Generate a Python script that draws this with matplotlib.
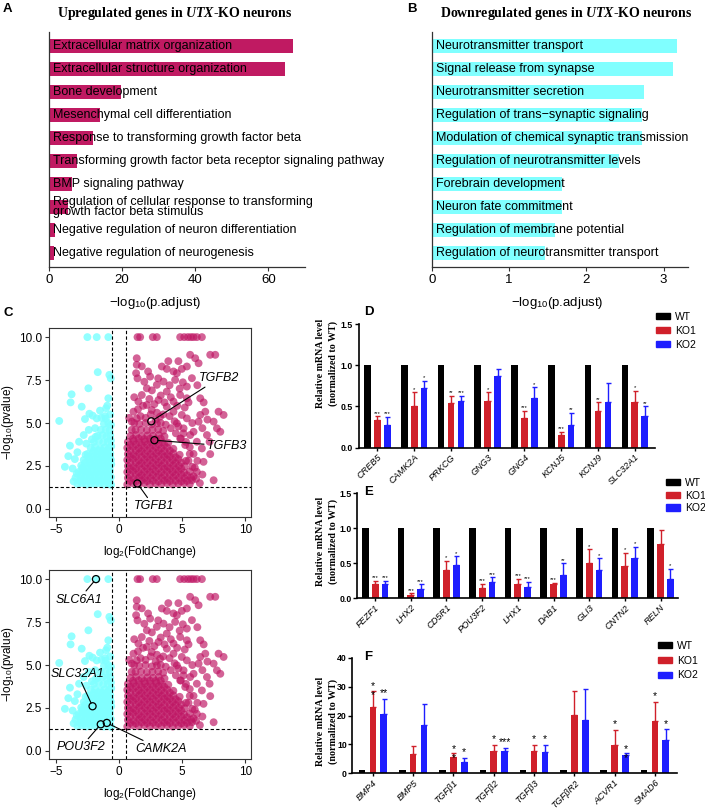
import numpy as np
import matplotlib.pyplot as plt
from matplotlib.patches import Patch

plt.rcParams['font.family'] = ['Liberation Sans', 'DejaVu Sans']
plt.rcParams['mathtext.fontset'] = 'custom'
plt.rcParams['mathtext.rm'] = 'Liberation Sans'
plt.rcParams['mathtext.it'] = 'Liberation Serif:italic:bold'
plt.rcParams['mathtext.bf'] = 'Liberation Serif:bold'

# --- A / B: GO enrichment ---
up_terms = [
    "Extracellular matrix organization",
    "Extracellular structure organization",
    "Bone development",
    "Mesenchymal cell differentiation",
    "Response to transforming growth factor beta",
    "Transforming growth factor beta receptor signaling pathway",
    "BMP signaling pathway",
    "Regulation of cellular response to transforming\ngrowth factor beta stimulus",
    "Negative regulation of neuron differentiation",
    "Negative regulation of neurogenesis",
]
up_values = [66.7, 64.5, 19.7, 14.0, 12.1, 7.8, 6.5, 5.2, 1.8, 1.5]

down_terms = [
    "Neurotransmitter transport",
    "Signal release from synapse",
    "Neurotransmitter secretion",
    "Regulation of trans\u2212synaptic signaling",
    "Modulation of chemical synaptic transmission",
    "Regulation of neurotransmitter levels",
    "Forebrain development",
    "Neuron fate commitment",
    "Regulation of membrane potential",
    "Regulation of neurotransmitter transport",
]
down_values = [3.17, 3.12, 2.75, 2.72, 2.72, 2.42, 1.69, 1.68, 1.59, 1.46]

# --- C: volcano (odhad bodu z obrazku) ---
down_fc = [-3.3, -2.95, -2.6, -2.25, -1.9, -1.55, -1.2, -0.85, -0.63,
           -3.45, -3.05, -2.7, -2.3, -1.95, -1.6, -1.25, -0.9, -0.65,
           -3.2, -2.8, -2.45, -2.1, -1.75, -1.4, -1.05, -0.72,
           -3.0, -2.55, -2.2, -1.85, -1.5, -1.15, -0.8, -0.62,
           -2.8, -2.35, -2.0, -1.6, -1.25, -0.9, -0.65,
           -2.5, -2.1, -1.75, -1.4, -1.05, -0.7,
           -2.25, -1.9, -1.5, -1.15, -0.8, -0.62,
           -2.0, -1.6, -1.25, -0.9, -0.65,
           -1.7, -1.3, -1.0, -0.7,
           -1.45, -1.05, -0.75,
           -1.2, -0.85, -0.65,
           -2.51, -1.77, -0.85, -1.69, -0.77, -0.66, -2.43, -3.76, -3.84, -0.85,
           -2.96, -4.74, -2.35, -2.09, -1.51, -1.03, -0.93, -2.7, -1.77, -3.17,
           -3.89, -4.02, -4.29, -3.68, -3.6, -3.5, -2.8, -2.4, -1.9, -3.3,
           -2.6, -1.4, -0.7, -1.1, -2.65, -2.9, -3.35, -1.85, -2.15, -1.05]
down_p = [1.45, 1.5, 1.42, 1.48, 1.44, 1.5, 1.42, 1.47, 1.4,
          1.82, 1.78, 1.85, 1.8, 1.76, 1.84, 1.8, 1.78, 1.85,
          2.15, 2.2, 2.12, 2.18, 2.14, 2.2, 2.13, 2.18,
          2.52, 2.48, 2.55, 2.5, 2.46, 2.52, 2.5, 2.6,
          2.85, 2.9, 2.84, 2.88, 2.82, 2.9, 2.86,
          3.2, 3.25, 3.18, 3.22, 3.2, 3.25,
          3.55, 3.6, 3.52, 3.58, 3.55, 3.65,
          3.9, 3.95, 3.88, 3.92, 3.98,
          4.25, 4.3, 4.22, 4.28,
          4.6, 4.62, 4.58,
          4.95, 5.0, 4.9,
          10.0, 10.0, 10.0, 7.96, 7.8, 7.6, 7.02, 6.67, 6.2, 6.44,
          5.95, 5.12, 5.54, 5.43, 5.72, 5.86, 6.01, 5.23, 5.27, 3.91,
          3.68, 3.07, 2.45, 2.35, 1.6, 2.9, 4.3, 4.6, 4.7, 3.3,
          3.8, 5.3, 5.5, 5.4, 3.15, 2.4, 2.05, 4.2, 4.05, 5.25]
# husta cast vlevo
down_core_fc = [-3.1, -2.75, -2.4, -2.05, -1.7, -1.35, -1.0, -0.75,
                -3.0, -2.62, -2.28, -1.92, -1.58, -1.22, -0.88,
                -2.9, -2.5, -2.15, -1.8, -1.45, -1.1, -0.75,
                -2.7, -2.3, -1.95, -1.6, -1.25, -0.9,
                -2.45, -2.05, -1.7, -1.35, -1.0, -0.72,
                -2.0, -1.62, -1.28, -0.95]
down_core_p = [1.63, 1.6, 1.66, 1.62, 1.64, 1.6, 1.65, 1.62,
               1.98, 2.0, 1.96, 1.99, 1.97, 2.0, 1.96,
               2.33, 2.35, 2.31, 2.34, 2.32, 2.36, 2.33,
               2.68, 2.7, 2.66, 2.69, 2.67, 2.7,
               3.03, 3.05, 3.01, 3.04, 3.02, 3.06,
               3.38, 3.4, 3.36, 3.39]

up_fc = [0.65, 1.1, 1.55, 2.0, 2.45, 2.9, 3.35, 3.8, 4.25, 4.7, 5.15, 5.6,
         0.7, 1.15, 1.6, 2.05, 2.5, 2.95, 3.4, 3.85, 4.3, 4.75, 5.2, 5.7, 6.1,
         0.65, 1.1, 1.55, 2.0, 2.45, 2.9, 3.35, 3.8, 4.25, 4.7, 5.15, 5.6,
         0.7, 1.15, 1.6, 2.05, 2.5, 2.95, 3.4, 3.85, 4.3, 4.75, 5.2, 5.8,
         0.65, 1.1, 1.55, 2.0, 2.45, 2.9, 3.35, 3.8, 4.25, 4.7, 5.3,
         0.7, 1.15, 1.6, 2.05, 2.5, 2.95, 3.4, 3.85, 4.3, 4.8,
         0.65, 1.1, 1.55, 2.0, 2.45, 2.9, 3.35, 3.8, 4.3,
         0.7, 1.15, 1.6, 2.05, 2.5, 2.95, 3.4, 3.9,
         0.9, 1.35, 1.8, 2.25, 2.7, 3.15, 3.6,
         1.3, 1.75, 2.2, 2.65, 3.1, 3.5,
         1.6, 2.1, 2.6, 3.0,
         1.46, 1.67, 2.67, 2.99, 4.84, 5.16, 5.45, 5.69, 5.9, 6.16, 6.56,
         5.63, 6.03, 6.3, 7.22, 7.62, 5.37, 4.97, 4.58, 4.31, 3.78, 3.39,
         1.4, 1.4, 1.35, 1.46, 4.44, 5.05, 5.37, 5.77, 2.46, 2.99, 3.52, 2.2, 3.78,
         4.84, 5.37, 4.31, 3.12, 1.8, 1.53, 6.43, 6.83, 6.43, 7.88, 8.28, 7.49,
         7.75, 8.02, 6.3, 5.9, 6.96, 7.17, 7.22, 7.49, 6.56, 6.16, 6.69, 6.16, 5.77,
         2.2, 2.59, 3.78, 4.31, 4.97, 5.37, 4.58, 5.11, 5.63, 1.14, 1.01, 1.4,
         3.25, 4.84, 5.24,
         1.0, 1.2, 0.8, 1.7, 2.1, 2.9, 3.3, 3.7, 4.1, 4.5, 4.9, 5.3, 5.6, 5.9,
         6.2, 6.0, 5.5, 5.6, 5.9, 6.4, 6.6, 1.9, 2.4, 2.8, 3.3, 3.6, 4.1, 4.6,
         3.0, 3.5, 4.0, 4.4, 2.5, 1.5, 1.2, 2.6, 3.1, 4.0, 4.8, 5.2, 5.8, 6.6,
         5.5, 3.9, 4.7, 2.0, 1.8, 2.3, 6.2, 6.7, 7.0, 5.1, 4.7]
up_p = [1.42, 1.5, 1.44, 1.5, 1.42, 1.48, 1.44, 1.5, 1.42, 1.46, 1.5, 1.44,
        1.8, 1.76, 1.84, 1.8, 1.78, 1.85, 1.8, 1.76, 1.84, 1.8, 1.78, 1.82, 1.75,
        2.15, 2.2, 2.12, 2.18, 2.14, 2.2, 2.13, 2.18, 2.15, 2.2, 2.12, 2.18,
        2.5, 2.46, 2.54, 2.5, 2.48, 2.55, 2.5, 2.46, 2.54, 2.5, 2.48, 2.45,
        2.85, 2.9, 2.82, 2.88, 2.84, 2.9, 2.83, 2.88, 2.85, 2.9, 2.8,
        3.2, 3.16, 3.24, 3.2, 3.18, 3.25, 3.2, 3.16, 3.24, 3.15,
        3.55, 3.6, 3.52, 3.58, 3.54, 3.6, 3.53, 3.58, 3.5,
        3.9, 3.95, 3.88, 3.92, 3.9, 3.95, 3.88, 3.85,
        4.25, 4.3, 4.22, 4.28, 4.25, 4.3, 4.22,
        4.6, 4.62, 4.58, 4.6, 4.62, 4.55,
        4.95, 5.0, 4.92, 4.98,
        10.0, 10.0, 10.0, 10.0, 10.0, 10.0, 10.0, 10.0, 10.0, 10.0, 10.0,
        8.97, 8.77, 8.48, 8.97, 8.97, 8.29, 8.15, 7.9, 8.0, 8.15, 8.29,
        8.77, 8.39, 7.9, 7.6, 7.51, 7.37, 7.12, 7.61, 7.7, 7.22, 7.41, 7.02, 6.83,
        6.63, 6.44, 6.25, 6.34, 6.63, 6.25, 6.44, 5.66, 5.47, 5.66, 5.47, 5.08,
        4.69, 4.49, 5.08, 4.49, 4.3, 3.91, 3.19, 1.67, 3.52, 3.91, 2.74, 2.16, 1.67,
        6.05, 5.76, 5.95, 5.66, 5.47, 5.27, 4.98, 4.69, 4.3, 5.66, 5.08, 5.27,
        5.37, 4.1, 3.72,
        4.6, 5.0, 5.3, 5.4, 5.3, 5.2, 5.0, 4.9, 4.7, 4.4, 4.1, 3.9, 3.6, 3.2,
        2.8, 2.4, 2.8, 3.2, 1.9, 1.5, 2.0, 6.0, 6.4, 6.1, 6.6, 6.2, 6.5, 6.0,
        5.6, 5.5, 5.4, 5.1, 5.5, 5.8, 6.5, 6.9, 7.6, 7.2, 7.0, 5.9, 5.0, 4.7,
        6.2, 8.6, 8.6, 7.4, 8.3, 8.0, 7.2, 6.2, 5.2, 4.4, 4.8]
# husta cast vpravo
up_core_fc = [0.88, 1.33, 1.78, 2.23, 2.68, 3.13, 3.58, 4.03, 4.48, 4.93, 5.38,
              0.88, 1.33, 1.78, 2.23, 2.68, 3.13, 3.58, 4.03, 4.48, 4.93, 5.38,
              0.88, 1.33, 1.78, 2.23, 2.68, 3.13, 3.58, 4.03, 4.48, 4.93,
              0.88, 1.33, 1.78, 2.23, 2.68, 3.13, 3.58, 4.03, 4.48, 4.93,
              0.88, 1.33, 1.78, 2.23, 2.68, 3.13, 3.58, 4.03, 4.48,
              0.88, 1.33, 1.78, 2.23, 2.68, 3.13, 3.58, 4.03,
              0.88, 1.33, 1.78, 2.23, 2.68, 3.13, 3.58,
              1.1, 1.55, 2.0, 2.45, 2.9, 3.3]
up_core_p = [1.63, 1.6, 1.66, 1.62, 1.64, 1.6, 1.65, 1.62, 1.64, 1.6, 1.63,
             1.98, 2.0, 1.96, 1.99, 1.97, 2.0, 1.96, 1.99, 1.97, 2.0, 1.96,
             2.33, 2.35, 2.31, 2.34, 2.32, 2.36, 2.33, 2.35, 2.31, 2.34,
             2.68, 2.7, 2.66, 2.69, 2.67, 2.7, 2.66, 2.69, 2.67, 2.7,
             3.03, 3.05, 3.01, 3.04, 3.02, 3.06, 3.03, 3.05, 3.01,
             3.38, 3.4, 3.36, 3.39, 3.37, 3.4, 3.36, 3.39,
             3.73, 3.75, 3.71, 3.74, 3.72, 3.76, 3.73,
             4.08, 4.1, 4.06, 4.09, 4.07, 4.1]

# zvyraznene geny: (fc, p, popisek, popisek_x, popisek_y, zarovnani)
highlight_top = [
    (2.55, 5.1, "TGFB2", 7.9, 7.6, "center"),
    (2.8, 4.0, "TGFB3", 6.95, 3.66, "left"),
    (1.45, 1.48, "TGFB1", 2.75, 0.15, "center"),
]
highlight_bottom = [
    (-1.83, 10.0, "SLC6A1", -3.2, 8.8, "center"),
    (-2.1, 2.6, "SLC32A1", -3.3, 4.5, "center"),
    (-1.45, 1.55, "POU3F2", -3.05, 0.2, "center"),
    (-0.97, 1.63, "CAMK2A", 1.3, 0.1, "left"),
]

# --- D / E / F: qPCR ---
d_genes = ["CREB5", "CAMK2A", "PRKCG", "GNG3", "GNG4", "KCNJ5", "KCNJ9", "SLC32A1"]
d_wt = [1.0, 1.0, 1.0, 1.0, 1.0, 1.0, 1.0, 1.0]
d_ko1 = [0.34, 0.50, 0.54, 0.57, 0.36, 0.16, 0.44, 0.55]
d_ko1_sd = [0.04, 0.17, 0.09, 0.10, 0.09, 0.03, 0.11, 0.14]
d_ko2 = [0.28, 0.72, 0.57, 0.87, 0.60, 0.28, 0.56, 0.39]
d_ko2_sd = [0.09, 0.09, 0.06, 0.08, 0.13, 0.14, 0.22, 0.11]
d_sig1 = ["***", "*", "**", "*", "***", "***", "**", "*"]
d_sig2 = ["***", "*", "***", "", "*", "**", "", "**"]

e_genes = ["FEZF1", "LHX2", "CD5R1", "POU3F2", "LHX1", "DAB1", "GLI3", "CNTN2", "RELN"]
e_wt = [1.0, 1.0, 1.0, 1.0, 1.0, 1.0, 1.0, 1.0, 1.0]
e_ko1 = [0.20, 0.05, 0.41, 0.15, 0.20, 0.20, 0.50, 0.46, 0.78]
e_ko1_sd = [0.05, 0.02, 0.12, 0.06, 0.08, 0.02, 0.20, 0.19, 0.19]
e_ko2 = [0.20, 0.13, 0.47, 0.24, 0.16, 0.33, 0.40, 0.57, 0.28]
e_ko2_sd = [0.05, 0.07, 0.13, 0.06, 0.07, 0.17, 0.17, 0.16, 0.14]
e_sig1 = ["***", "***", "*", "***", "***", "***", "*", "*", ""]
e_sig2 = ["***", "***", "*", "***", "***", "**", "*", "*", "*"]

f_genes = ["BMP4", "BMP5", "TGF\u03b21", "TGF\u03b22", "TGF\u03b23", "TGF\u03b2R2", "ACVR1", "SMAD6"]
f_wt = [1.0, 1.0, 1.0, 1.0, 1.0, 1.0, 1.0, 1.0]
f_ko1 = [22.9, 6.8, 5.5, 7.8, 7.8, 20.2, 9.7, 18.2]
f_ko1_sd = [5.7, 2.7, 1.5, 2.1, 2.1, 8.4, 5.2, 6.6]
f_ko2 = [20.5, 16.7, 4.0, 7.7, 7.4, 18.5, 6.2, 11.5]
f_ko2_sd = [5.3, 7.4, 1.2, 1.1, 2.5, 10.6, 0.8, 3.7]
f_sig1 = ["*\n*", "", "*\n*", "*", "*", "", "*", "*"]
f_sig2 = ["**", "", "*", "***", "*", "", "*\n*", "*"]

RUZOVA = "#BF1765"
AZUROVA = "#80FFFF"
CERVENA = "#D0202A"
MODRA = "#1E1EFF"
SEDA = "#333333"

fig = plt.figure(figsize=(7.05, 8.08), dpi=100)


def px_axes(left, top, right, bottom):
    W, H = 705.0, 808.0
    return fig.add_axes([left / W, 1 - bottom / H, (right - left) / W, (bottom - top) / H])


def go_panel(ax, terms, values, color, xmax, xticks, label_x):
    y = np.arange(len(terms))
    ax.barh(y, values, height=0.61, color=color)
    ax.set_ylim(9.61, -0.62)
    ax.set_xlim(0, xmax)
    ax.set_xticks(xticks)
    ax.set_yticks([])
    for i, t in enumerate(terms):
        ax.text(0.016, i, t, transform=ax.get_yaxis_transform(), va="center", ha="left",
                fontsize=9, linespacing=0.85, clip_on=False)
    for s in ["top", "right"]:
        ax.spines[s].set_visible(False)
    for s in ["left", "bottom"]:
        ax.spines[s].set_color(SEDA)
        ax.spines[s].set_linewidth(0.9)
    ax.tick_params(axis="x", labelsize=9.5, length=3, color=SEDA, pad=2)
    ax.set_xlabel("\u2212log$_{10}$(p.adjust)", fontsize=9.5)
    ax.xaxis.set_label_coords(label_x, -0.12)


axA = px_axes(48.7, 32, 305, 267)
go_panel(axA, up_terms, up_values, "#C01A62", 70, [0, 20, 40, 60], 0.415)
axB = px_axes(431.7, 32, 688.3, 267)
go_panel(axB, down_terms, down_values, AZUROVA, 3.32, [0, 1, 2, 3], 0.49)

fig.text(175 / 705, 1 - 14 / 808, "Upregulated genes in $\\it{UTX}$-KO neurons", ha="center", va="center",
         fontsize=10, fontweight="bold", family="Liberation Serif")
fig.text(566 / 705, 1 - 14 / 808, "Downregulated genes in $\\it{UTX}$-KO neurons", ha="center", va="center",
         fontsize=10, fontweight="bold", family="Liberation Serif")


def volcano(ax, highlights):
    ax.scatter(down_fc + down_core_fc, down_p + down_core_p, s=32, color=AZUROVA, alpha=0.85,
               edgecolors="none", zorder=2)
    ax.scatter(up_fc + up_core_fc, up_p + up_core_p, s=32, color=RUZOVA, alpha=0.68,
               edgecolors="none", zorder=2)
    ax.axvline(-0.585, color="black", ls=(0, (3, 2)), lw=0.8, zorder=3)
    ax.axvline(0.585, color="black", ls=(0, (3, 2)), lw=0.8, zorder=3)
    ax.axhline(1.301, color="black", ls=(0, (3, 2)), lw=0.8, zorder=3)
    ax.set_xlim(-5.55, 10.45)
    ax.set_ylim(-0.47, 10.53)
    ax.set_xticks([-5, 0, 5, 10])
    ax.set_xticklabels(["\u22125", "0", "5", "10"])
    ax.set_yticks([0, 2.5, 5, 7.5, 10])
    ax.set_yticklabels(["0.0", "2.5", "5.0", "7.5", "10.0"])
    ax.tick_params(labelsize=8.5, length=3, color=SEDA, pad=2)
    for s in ax.spines.values():
        s.set_color(SEDA)
        s.set_linewidth(0.8)
    ax.set_xlabel("log$_{2}$(FoldChange)", fontsize=8.5)
    ax.set_ylabel("\u2212log$_{10}$(pvalue)", fontsize=8.5)
    ax.xaxis.set_label_coords(0.5, -0.145)
    ax.yaxis.set_label_coords(-0.165, 0.5)
    for fc, p, name, tx, ty, ha in highlights:
        ax.scatter([fc], [p], s=26, facecolors="none", edgecolors="black", linewidths=0.9, zorder=4)
        ax.annotate(name, xy=(fc, p), xytext=(tx, ty), ha=ha, va="center", fontsize=9, style="italic",
                    arrowprops=dict(arrowstyle="-", lw=0.8, color="black", shrinkA=0, shrinkB=2.5), zorder=5)


axC1 = px_axes(49, 328, 251, 517)
volcano(axC1, highlight_top)
axC2 = px_axes(49, 570, 251, 759)
volcano(axC2, highlight_bottom)


def qpcr(ax, genes, wt, ko1, ko1_sd, ko2, ko2_sd, sig1, sig2, ymax, yticks, ylabels, xlim, width, offset, star_fs):
    x = np.arange(len(genes))
    n = len(genes)
    ax.bar(x - offset, wt, width, color="black", zorder=2)
    ax.bar(x, ko1, width, color=CERVENA, zorder=2, yerr=[np.zeros(n), ko1_sd],
           error_kw=dict(ecolor=CERVENA, elinewidth=1.0, capsize=1.8, capthick=1.0))
    ax.bar(x + offset, ko2, width, color=MODRA, zorder=2, yerr=[np.zeros(n), ko2_sd],
           error_kw=dict(ecolor=MODRA, elinewidth=1.0, capsize=1.8, capthick=1.0))
    for i in range(n):
        for pos, val, sd, s in [(x[i], ko1[i], ko1_sd[i], sig1[i]), (x[i] + offset, ko2[i], ko2_sd[i], sig2[i])]:
            if not s:
                continue
            dy = -7 if "\n" in s else 0.5
            ax.annotate(s, xy=(pos, val + sd), xytext=(0, dy), textcoords="offset points", ha="center",
                        va="bottom", fontsize=star_fs, linespacing=0.9)
    ax.set_xlim(*xlim)
    ax.set_ylim(0, ymax)
    ax.set_yticks(yticks)
    ax.set_yticklabels(ylabels, fontweight="bold")
    ax.set_xticks(x)
    ax.set_xticklabels(genes, rotation=45, ha="right", rotation_mode="anchor", style="italic", fontsize=6.6)
    for s in ["top", "right"]:
        ax.spines[s].set_visible(False)
    for s in ["left", "bottom"]:
        ax.spines[s].set_linewidth(1.2)
    ax.tick_params(axis="y", labelsize=6.3, length=3, width=1.0, pad=1)
    ax.tick_params(axis="x", length=2, width=1.0, pad=1.5)
    ax.set_ylabel("Relative mRNA level\n(normalized to WT)", fontsize=7.2, fontweight="bold",
                  family="Liberation Serif", linespacing=1.45)


axD = px_axes(358.7, 324, 655, 447.7)
qpcr(axD, d_genes, d_wt, d_ko1, d_ko1_sd, d_ko2, d_ko2_sd, d_sig1, d_sig2, 1.5, [0, 0.5, 1.0, 1.5],
     ["0.0", "0.5", "1.0", "1.5"], (-0.51, 7.55), 0.18, 0.27, 4.2)
axD.yaxis.set_label_coords(-0.07, 0.68)
axE = px_axes(357.3, 493.3, 678, 598.3)
qpcr(axE, e_genes, e_wt, e_ko1, e_ko1_sd, e_ko2, e_ko2_sd, e_sig1, e_sig2, 1.5, [0, 0.5, 1.0, 1.5],
     ["0.0", "0.5", "1.0", "1.5"], (-0.5, 8.49), 0.19, 0.275, 4.2)
axE.yaxis.set_label_coords(-0.06, 0.54)
axF = px_axes(352.3, 657.7, 676.7, 773.3)
qpcr(axF, f_genes, f_wt, f_ko1, f_ko1_sd, f_ko2, f_ko2_sd, f_sig1, f_sig2, 40, [0, 10, 20, 30, 40],
     ["0", "10", "20", "30", "40"], (-0.51, 7.54), 0.165, 0.27, 7.5)
axF.yaxis.set_label_coords(-0.044, 0.45)

handles = [Patch(color="black"), Patch(color=CERVENA), Patch(color=MODRA)]
for x0, y0, sp in [(656, 312, 0.38), (666, 478, 0.25), (658, 641, 0.45)]:
    fig.legend(handles, ["WT", "KO1", "KO2"], loc="upper left", bbox_to_anchor=(x0 / 705, 1 - y0 / 808),
               frameon=False, fontsize=7.5, handlelength=1.3, handleheight=0.55, labelspacing=sp,
               borderpad=0, borderaxespad=0, handletextpad=0.5)

for letter, lx, ly in [("A", 3, 3), ("B", 407, 3), ("C", 3, 307), ("D", 364, 306), ("E", 364, 486), ("F", 364, 651)]:
    fig.text(lx / 705, 1 - ly / 808, letter, fontsize=9.5, fontweight="bold", va="top", ha="left")

fig.savefig("out.png", dpi=100)
